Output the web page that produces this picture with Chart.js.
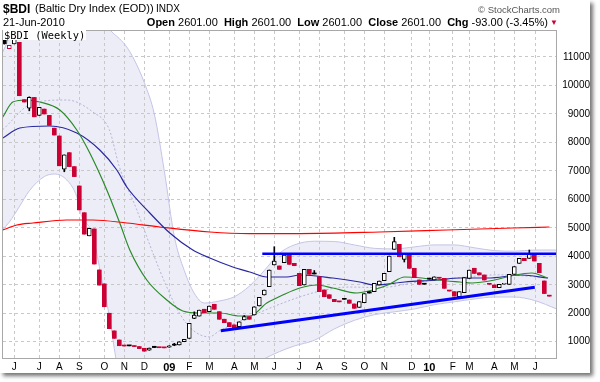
<!DOCTYPE html>
<html><head><meta charset="utf-8">
<script src="https://cdn.jsdelivr.net/npm/chart.js@4/dist/chart.umd.min.js"></script>
<style>
html,body{margin:0;padding:0;background:#fff;}
#box{position:absolute;left:0;top:0;width:590px;height:373px;background:#fff;box-shadow:3px 3px 4px rgba(0,0,0,0.55);}
#c{position:absolute;left:0;top:0;}
.t{position:absolute;white-space:nowrap;font-family:"Liberation Sans",Arial,sans-serif;color:#000;line-height:1;}
b{font-weight:bold;}
</style></head><body>
<div id="box">
<canvas id="c" width="590" height="373"></canvas>
<div class="t" style="left:3px;top:2.5px;font-size:12px;font-weight:bold">$BDI</div>
<div class="t" style="left:35px;top:3.4px;font-size:11px">(Baltic Dry Index (EOD))</div>
<div class="t" style="left:156px;top:4.2px;font-size:10px">INDX</div>
<div class="t" style="right:30px;top:4.7px;font-size:9.5px;color:#555">© StockCharts.com</div>
<div class="t" style="left:3px;top:17.4px;font-size:11px">21-Jun-2010</div>
<div class="t" style="right:42px;top:17.4px;font-size:11px"><b>Open</b> 2601.00&nbsp; <b>High</b> 2601.00&nbsp; <b>Low</b> 2601.00&nbsp; <b>Close</b> 2601.00&nbsp; <b>Chg</b> -93.00 (-3.45%)</div>
<div class="t" style="left:550px;top:19px;font-size:8px;color:#cc0033">▼</div>
<div class="t" style="left:3px;top:30px;height:10px;line-height:10px;font-size:10.4px;font-family:'DejaVu Sans Mono',monospace;background:#fff;padding:0 1px 0 1px">$BDI (Weekly)</div>
</div>
<script>
// ---- weekly candles (index 0 = week of 19-May-2008, last = week of 21-Jun-2010)
const opens  = [11650,11290,11460,11515,9500,9200,9580,8950,9170,8950,8500,8225,7060,7640,7150,6470,5530,4720,4960,3520,3030,2000,1380,1060,870,875,860,830,770,700,840,800,795,805,890,885,1000,1120,1820,1900,2140,2055,2315,2055,1790,1670,1590,1530,1765,1880,1940,2255,2640,2933,3695,3660,3775,4046,3754,3403,2992,3543,3403,3284,2817,2650,2490,2420,2500,2465,2325,2209,2371,2757,2757,2992,3143,3460,4246,4421,3895,4070,3579,3168,3030,3210,3170,3240,3227,2790,2757,2581,2722,3227,3580,3420,3343,3030,2992,2898,3020,3017,3368,3754,3930,3930,4070,3754,3133,2601];
const closes = [11470,11410,11700,9640,9420,9580,8900,9230,9000,8600,8260,7180,7560,7150,6800,5630,4780,4980,3730,2990,2230,1460,1120,860,850,855,830,760,670,780,795,790,785,860,880,1000,1085,1647,1940,2110,2020,2255,2140,1790,1670,1530,1470,1700,1880,1790,2230,2560,2817,3519,3835,3543,4046,3719,3670,2968,3543,3368,3380,2757,2581,2525,2406,2400,2490,2350,2174,2406,2690,2710,3052,3133,3403,4011,4513,3986,4070,3579,3249,3017,3020,3200,3280,3230,2876,2781,2606,2757,3249,3519,3400,3350,3168,3017,2898,3017,3030,3368,3635,3930,3846,4070,3835,3424,2694,2601];
const highs  = [11700,11410,11750,11515,9500,9600,9580,9230,9170,8950,8500,8225,7560,7640,7150,6470,5530,4980,4960,3520,3030,2000,1380,1060,870,875,860,830,770,780,840,800,795,860,945,1000,1085,1647,2050,2110,2140,2255,2315,2055,1790,1670,1590,1700,1920,1880,2230,2560,2817,3519,4337,3660,4046,4046,3754,3403,3543,3543,3500,3284,2817,2650,2490,2420,2500,2465,2325,2406,2690,2757,3052,3133,3403,4011,4667,4421,4070,4070,3579,3168,3030,3210,3280,3240,3227,2790,2757,2757,3249,3519,3580,3420,3343,3030,2992,3017,3030,3368,3635,3930,3930,4221,4070,3754,3133,2601];
const lows   = [11450,11290,11460,9640,9420,9110,8900,8950,9000,8600,8260,7180,6970,7150,6800,5630,4780,4720,3730,2990,2230,1460,1120,860,850,855,830,760,670,700,795,790,785,805,860,885,1000,1120,1810,1900,2020,2055,2140,1790,1670,1530,1470,1530,1765,1790,1940,2255,2640,2933,3695,3543,3775,3719,3670,2968,2992,3368,3380,2757,2581,2525,2406,2400,2490,2350,2174,2209,2371,2710,2757,2992,3143,3460,4246,3986,3800,3579,3249,3017,3020,3200,3170,3230,2876,2781,2606,2581,2722,3227,3400,3350,3168,3017,2898,2898,3020,3017,3368,3754,3846,3930,3835,3424,2694,2601];

// ---- x axis month ticks (week index) and labels
const monthTicks  = [2,7,11,15,20,24,28,33,37,41,46,50,54,59,63,68,72,76,81.5,85,89.7,93,98,102,106.2];
const monthLabels = ['J','J','A','S','O','N','D','09','F','M','A','M','J','J','A','S','O','N','D','10','F','M','A','M','J'];
const priceTicks  = [1000,2000,3000,4000,5000,6000,7000,8000,9000,10000,11000];

// ---- Bollinger bands (20-week)
const bandX     = [-0.5,1,3,5,8,10,12.5,14.5,15.5,17.5,19.5,21,22,23,24.5,26,28,30,32,34,36,38,40,43,46,49,52,55,58,62,66,70,74,78,82,86,90,94,98,102,106,110.5];
const bandUpper = [11100,11700,12800,13600,14200,14300,14200,13900,13700,13300,12700,12000,11800,11650,11350,10900,10100,9000,7000,4700,3500,2700,2360,2430,2580,2950,3500,4100,4400,4530,4520,4400,4280,4260,4330,4400,4400,4300,4200,4180,4220,4220];
const bandLower = [4900,5200,5740,6300,6800,6890,6680,6093,5391,4850,3200,1900,760,-300,-1000,-1500,-1900,-2100,-2200,-2100,-1900,-1600,-1200,-700,-300,100,400,650,850,1050,1450,1750,1950,2050,2150,2300,2400,2500,2570,2570,2450,2150];
const midX      = [-0.3,5.7,12.5,17.7,21,23,26.5,29.7,32.5,35,37.7,41,43,49,55.7,62.5,69,75,83,91,99,108.7];
const midY      = [8450,9380,9490,9070,8450,7150,5630,4120,2920,2010,1410,1170,1380,1870,2360,2750,2920,2900,3100,3250,3350,3250];

// ---- moving averages
const greenX = [-0.3,1.7,4.5,7.1,11.1,14.5,17.1,20.5,23.1,25.1,28.5,32.5,35.7,39.1,43.1,47.1,49.1,52.5,55.7,59.1,62.5,65.7,70.5,73.7,76.7,80.1,83.5,86.7,91.1,93.5,98.1,102.1,105.5,108.7];
const greenY = [8892,9419,9489,9419,9138,8436,7628,6329,5170,4221,3168,2465,2079,2009,2009,1904,1904,2360,2641,2887,2992,2887,2711,2817,2992,3273,3238,3168,3097,3062,3168,3343,3414,3238];
const blueX  = [-0.3,3.1,9.1,14.5,19.1,22.5,24.5,29.1,33.1,37.7,41.1,45.7,49.1,52.5,56.5,59.1,65.7,71.1,74.1,80.1,86.7,91.1,96.7,103.5,108.7];
const blueY  = [8155,8506,8576,8330,7733,7031,6434,5521,4819,4221,3940,3624,3449,3273,3273,3343,3238,3097,2992,3097,3168,3238,3238,3343,3238];
const redX   = [-0.3,2.5,5.7,12.5,17.7,24.5,31.1,41.1,49.1,59.1,75.1,88.5,101.7,109];
const redY   = [4924,5100,5170,5275,5275,5170,5030,4854,4800,4800,4854,4924,4994,5029];

// ---- trend lines
const resistX = [51.6,110.4];
const resistY = [4090,4090];
const supportX = [43.3,106.1];
const supportY = [1387,2911];

const RED = '#cc0033', BLACK = '#000000';
function candleColor(i){ const prev = i>0 ? closes[i-1] : closes[i]; return closes[i] < prev ? RED : BLACK; }
function hollow(i){ return closes[i] > opens[i]; }
const pts = (xs, ys) => xs.map((x,k)=>({x:x, y:ys[k]}));

const frame = { id:'frame', afterDatasetsDraw(chart){
  const {ctx, chartArea:a} = chart; ctx.save(); ctx.strokeStyle='#a8a8a8'; ctx.lineWidth=1;
  ctx.strokeRect(a.left-0.5, a.top-0.5, a.right-a.left+1, a.bottom-a.top+1); ctx.restore(); } };

const lineBase = {type:'line', pointRadius:0, borderWidth:1.2, cubicInterpolationMode:'monotone', fill:false};

new Chart(document.getElementById('c'), {
  type:'bar',
  data:{ datasets:[
    Object.assign({}, lineBase, {label:'resist', data:pts(resistX,resistY), borderColor:'#0000ff', borderWidth:2.5, order:0}),
    Object.assign({}, lineBase, {label:'support', data:pts(supportX,supportY), borderColor:'#0000ff', borderWidth:3, order:0}),
    {type:'bar', label:'body', data:opens.map((o,i)=>({x:i, y:[o, closes[i]]})), grouped:false, barThickness:4, minBarLength:1,
      backgroundColor: c => hollow(c.dataIndex) ? '#ffffff' : candleColor(c.dataIndex),
      borderColor: c => candleColor(c.dataIndex),
      borderWidth: c => hollow(c.dataIndex) ? 1 : 0, borderSkipped:false, order:1},
    {type:'bar', label:'wick', data:highs.map((h,i)=>({x:i, y:[lows[i], h]})), grouped:false, barThickness:1,
      backgroundColor: c => candleColor(c.dataIndex), borderWidth:0, order:2},
    Object.assign({}, lineBase, {label:'ma10', data:pts(greenX,greenY), borderColor:'#2a8a2a', order:3}),
    Object.assign({}, lineBase, {label:'ma26', data:pts(blueX,blueY), borderColor:'#2828a0', order:4}),
    Object.assign({}, lineBase, {label:'ma52', data:pts(redX,redY), borderColor:'#ff0000', order:5}),
    Object.assign({}, lineBase, {label:'mid', data:pts(midX,midY), borderColor:'#b4b4d4', borderWidth:1, borderDash:[2,2], order:6}),
    Object.assign({}, lineBase, {label:'upper', data:pts(bandX,bandUpper), borderColor:'#c4c4e6', borderWidth:1, fill:'+1', backgroundColor:'#ededf8', order:7}),
    Object.assign({}, lineBase, {label:'lower', data:pts(bandX,bandLower), borderColor:'#c4c4e6', borderWidth:1, order:8})
  ]},
  options:{
    responsive:false, animation:false, devicePixelRatio:1,
    layout:{padding:{left:3, top:31, right:0, bottom:0}},
    plugins:{legend:{display:false}, tooltip:{enabled:false}, filler:{drawTime:'beforeDraw'}},
    scales:{
      x:{type:'linear', min:-0.26, max:110.34, offset:false,
        grid:{offset:false, color:'#c8c8c8', drawTicks:false},
        border:{display:false, dash:[3,3]},
        afterBuildTicks: s => { s.ticks = monthTicks.map(v=>({value:v})); },
        afterFit: s => { s.height = 15; },
        ticks:{autoSkip:false, maxRotation:0, padding:3, color:'#000',
          callback:(v,i)=>monthLabels[i],
          font: c => ({family:'"Liberation Sans", Arial, sans-serif', size: /\d/.test(monthLabels[c.index]||'') ? 11 : 10,
                       weight: /\d/.test(monthLabels[c.index]||'') ? 'bold' : 'normal'})}},
      y:{type:'linear', position:'right', min:428.5, max:11913, beginAtZero:false,
        grid:{color:'#c8c8c8', drawTicks:false},
        border:{display:false, dash:[3,3]},
        afterBuildTicks: s => { s.ticks = priceTicks.map(v=>({value:v})); },
        afterFit: s => { s.width = 34; },
        ticks:{crossAlign:'far', padding:5, color:'#000', callback:v=>String(v),
          font:{family:'"Liberation Sans", Arial, sans-serif', size:10}}}
    }
  },
  plugins:[frame]
});
</script>
</body></html>
